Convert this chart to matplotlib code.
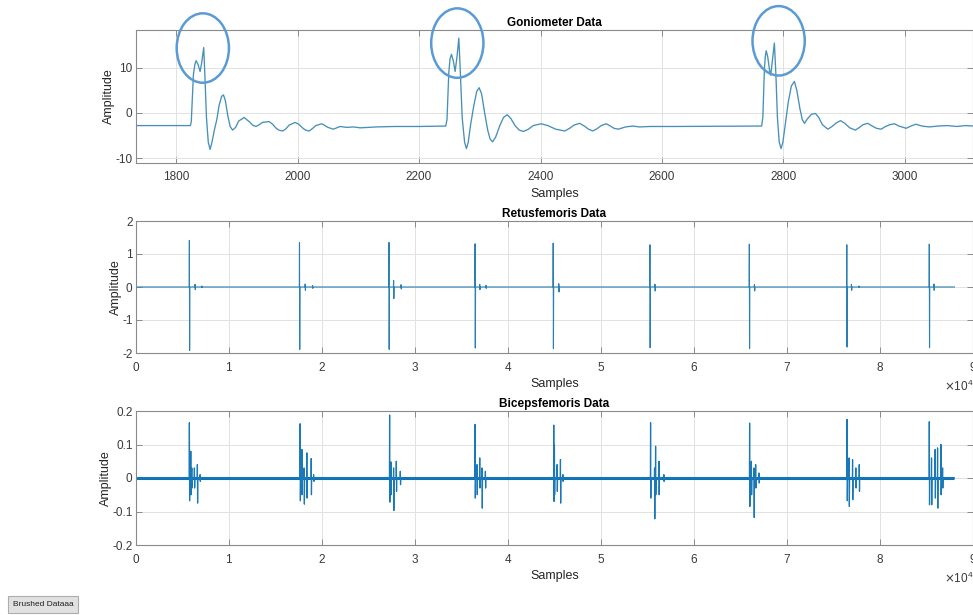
import matplotlib
matplotlib.use("Agg")
import matplotlib.pyplot as plt
from matplotlib.patches import Ellipse, Rectangle
from matplotlib.ticker import FixedLocator, FixedFormatter

plt.rcParams['font.family'] = ['Liberation Sans', 'DejaVu Sans']
plt.rcParams['axes.unicode_minus'] = False

# ---------------- Goniometer data (samples, amplitude) ----------------
gon_x = [1734, 1823.5, 1825, 1828.5, 1831, 1833, 1836, 1839.5, 1842, 1845.5, 1847.5,
         1850, 1853, 1856, 1859, 1863, 1867, 1871, 1875, 1878, 1881, 1885, 1889,
         1893, 1898, 1903, 1912, 1921, 1926, 1931.5, 1937, 1942, 1953, 1959, 1964,
         1969, 1975.5, 1981, 1986, 1996, 2002, 2008, 2013, 2019, 2025, 2030, 2040,
         2050, 2059, 2070, 2081, 2092, 2103, 2130, 2160, 2200, 2244,
         2246, 2249, 2251, 2253.4, 2256.5, 2259.4, 2262.5, 2265.5, 2268, 2271, 2275,
         2278, 2281, 2285, 2290, 2295, 2299, 2303, 2308, 2313, 2317, 2321, 2326,
         2333, 2339, 2345, 2351, 2358, 2365, 2372, 2380, 2388, 2401, 2412, 2425,
         2440, 2448, 2455, 2464.5, 2472, 2479, 2486, 2493, 2500, 2508, 2515, 2521,
         2528, 2540, 2552, 2563, 2580, 2620, 2680, 2720, 2764,
         2766, 2768.5, 2770, 2771.5, 2774, 2777, 2779, 2782, 2785, 2787.5, 2790,
         2793, 2796, 2799, 2803, 2808, 2813, 2818, 2822, 2827, 2831, 2834.5, 2840,
         2846, 2852.6, 2858, 2864, 2873, 2880, 2887, 2894, 2901, 2909, 2918.4, 2925,
         2931, 2938.7, 2946, 2953, 2960.7, 2968, 2975, 2982.6, 2990, 3001.8, 3010,
         3018, 3028, 3040, 3055, 3070, 3085, 3100, 3112]
gon_y = [-2.8, -2.8, -2.0, 8.5, 10.8, 11.6, 10.8, 9.2, 11.0, 14.5, 8.0,
         -1.0, -6.5, -8.1, -6.5, -3.8, -1.5, 1.8, 3.7, 4.0, 2.8, -0.5, -3.0,
         -3.8, -3.2, -1.8, -1.0, -2.0, -2.7, -3.0, -2.6, -2.1, -1.9, -2.5, -3.3,
         -3.8, -4.0, -3.5, -2.7, -2.1, -2.5, -3.3, -3.8, -4.0, -3.4, -2.8, -2.4,
         -3.2, -3.6, -3.0, -3.2, -3.1, -3.3, -3.1, -3.0, -3.0, -2.9,
         -1.5, 9.0, 12.0, 13.0, 11.5, 9.2, 12.5, 16.6, 9.0, -1.0, -6.5,
         -7.9, -6.5, -2.5, 1.5, 4.8, 5.6, 4.2, 0.0, -3.8, -5.8, -6.4, -5.4,
         -2.8, -1.0, -0.4, -1.2, -2.8, -3.8, -4.1, -3.6, -2.8, -2.4, -2.8, -3.6,
         -4.0, -3.4, -2.7, -2.3, -2.9, -3.6, -4.0, -3.5, -2.8, -2.4, -2.9, -3.4,
         -3.6, -3.1, -2.9, -3.1, -3.0, -3.0, -2.95, -2.9, -2.9,
         -1.0, 9.5, 12.5, 13.8, 12.5, 9.5, 8.4, 12.0, 15.5, 8.5, -1.0,
         -6.5, -7.9, -6.5, -2.5, 2.5, 6.0, 7.0, 5.0, 1.0, -1.5, -2.3, -1.2,
         -0.3, -0.1, -1.0, -2.6, -3.6, -3.0, -2.2, -1.7, -2.3, -3.3, -3.8, -3.2,
         -2.6, -2.3, -2.9, -3.4, -3.6, -3.0, -2.6, -2.4, -2.9, -3.4, -2.9,
         -2.5, -2.9, -3.1, -2.9, -2.8, -3.0, -2.8, -2.9]

# Peaks that are circled (sample, amplitude centre of the ring)
ring_x = [1844, 2263, 2792]
ring_y = [14.4, 15.5, 16.0]

# ---------------- Retusfemoris data ----------------
rf_end = 88000
rf_pos = [5740, 17580, 27200, 36460, 44860, 55260, 65950, 76430, 85300]
rf_top = [1.41, 1.35, 1.35, 1.31, 1.33, 1.28, 1.30, 1.28, 1.30]
rf_bot = [-1.92, -1.89, -1.89, -1.85, -1.87, -1.84, -1.87, -1.82, -1.84]
rf_blip_pos = [6350, 7070, 18190, 18980, 27700, 28500, 36960, 37640, 45460,
               55800, 66500, 76930, 77750, 85800]
rf_blip_up = [0.08, 0.03, 0.09, 0.04, 0.20, 0.07, 0.08, 0.05, 0.10,
              0.08, 0.07, 0.08, 0.03, 0.09]
rf_blip_dn = [-0.08, -0.02, -0.10, -0.04, -0.35, -0.06, -0.08, -0.04, -0.15,
              -0.12, -0.12, -0.10, -0.02, -0.10]

# ---------------- Bicepsfemoris data ----------------
bf_end = 88000
bf_pos = [5740, 5890, 6000, 6280, 6600, 6890,
          17650, 17840, 18080, 18370, 18840, 19100,
          27270, 27410, 27700, 27990, 28420,
          36460, 36670, 36960, 37210, 37570,
          44920, 44990, 45280, 45640, 45900,
          55330, 55760, 55870, 56230, 56760,
          65980, 66170, 66450, 66630, 66990,
          76460, 76680, 77050, 77400, 77770,
          85300, 85540, 85930, 86190, 86550, 86730]
bf_up = [0.165, 0.08, 0.03, 0.03, 0.04, 0.01,
         0.162, 0.085, 0.03, 0.075, 0.058, 0.01,
         0.188, 0.048, 0.03, 0.05, 0.02,
         0.16, 0.04, 0.06, 0.03, 0.02,
         0.158, 0.10, 0.04, 0.055, 0.01,
         0.165, 0.03, 0.095, 0.05, 0.01,
         0.164, 0.05, 0.03, 0.04, 0.015,
         0.175, 0.06, 0.055, 0.03, 0.04,
         0.168, 0.06, 0.085, 0.09, 0.10, 0.03]
bf_dn = [-0.068, -0.05, -0.03, -0.03, -0.075, -0.01,
         -0.068, -0.05, -0.078, -0.06, -0.05, -0.01,
         -0.072, -0.05, -0.097, -0.04, -0.02,
         -0.06, -0.05, -0.03, -0.09, -0.03,
         -0.07, -0.05, -0.04, -0.075, -0.01,
         -0.06, -0.122, -0.05, -0.05, -0.01,
         -0.085, -0.05, -0.118, -0.03, -0.015,
         -0.068, -0.085, -0.065, -0.03, -0.04,
         -0.08, -0.08, -0.06, -0.09, -0.05, -0.03]


def spike_series(end, events):
    """events: list of (pos, up, down) -> polyline through baseline 0"""
    xs, ys = [0], [0.0]
    for p, u, d in sorted(events):
        xs += [p - 20, p, p + 25, p + 50]
        ys += [0.0, u, d, 0.0]
    xs.append(end)
    ys.append(0.0)
    return xs, ys


W, H = 973, 615
fig = plt.figure(figsize=(W / 100, H / 100), dpi=100)
fig.patch.set_facecolor('white')

left = 136 / W
width = 837 / W


def ax_rect(top_px, bot_px):
    return [left, 1 - bot_px / H, width, (bot_px - top_px) / H]


spine_col = '#8a8a8a'
tick_col = '#3a3a3a'


def style(ax):
    for s in ax.spines.values():
        s.set_color(spine_col)
        s.set_linewidth(0.8)
    ax.tick_params(direction='in', length=4, width=0.7, colors=spine_col,
                   labelcolor=tick_col, labelsize=8.5, top=True, right=True)
    ax.tick_params(axis='y', pad=2.5)
    ax.tick_params(axis='x', pad=6)
    ax.grid(True, color='#e2e2e2', linewidth=0.7)
    ax.set_axisbelow(True)
    ax.set_ylabel('Amplitude', fontsize=9, color='#262626', labelpad=0)
    ax.set_xlabel('Samples', fontsize=9, color='#262626', labelpad=3)


# ---- top: goniometer
ax1 = fig.add_axes(ax_rect(30, 163))
ax1.plot(gon_x, gon_y, color='#4690b8', linewidth=0.95)
ax1.set_xlim(1734, 3112)
ax1.set_ylim(-11.1, 18.4)
ax1.set_xticks([1800, 2000, 2200, 2400, 2600, 2800, 3000])
ax1.set_yticks([-10, 0, 10])
style(ax1)
ax1.set_title('Goniometer Data', fontsize=8.5, fontweight='bold', pad=3)
for cx, cy in zip(ring_x, ring_y):
    ax1.add_patch(Ellipse((cx, cy), width=86, height=15.4, fill=False,
                          edgecolor='#5b9bd5', linewidth=1.8, clip_on=False,
                          zorder=5))

# ---- middle: retusfemoris
ax2 = fig.add_axes(ax_rect(221, 353))
ev2 = list(zip(rf_pos, rf_top, rf_bot)) + list(zip(rf_blip_pos, rf_blip_up, rf_blip_dn))
x2, y2 = spike_series(rf_end, ev2)
ax2.plot(x2, y2, color='#2a7fb3', linewidth=0.8)
ax2.set_xlim(0, 90000)
ax2.set_ylim(-2, 2)
ax2.set_xticks([i * 10000 for i in range(10)])
ax2.set_yticks([-2, -1, 0, 1, 2])
ax2.ticklabel_format(axis='x', style='sci', scilimits=(4, 4), useMathText=True)
style(ax2)
ax2.xaxis.get_offset_text().set_fontsize(8.5)
ax2.xaxis.get_offset_text().set_color(tick_col)
ax2.set_title('Retusfemoris Data', fontsize=8.5, fontweight='bold', pad=3)

# ---- bottom: bicepsfemoris
ax3 = fig.add_axes(ax_rect(411, 545))
x3, y3 = spike_series(bf_end, list(zip(bf_pos, bf_up, bf_dn)))
ax3.plot([0, bf_end], [0, 0], color='#0a72b8', linewidth=2.2, solid_capstyle='butt')
ax3.plot(x3, y3, color='#1a78b8', linewidth=0.9)
ax3.set_xlim(0, 90000)
ax3.set_ylim(-0.2, 0.2)
ax3.set_xticks([i * 10000 for i in range(10)])
bf_ticks = [-0.2, -0.1, 0, 0.1, 0.2]
bf_tick_labels = ['-0.2', '-0.1', '0', '0.1', '0.2']
ax3.yaxis.set_major_locator(FixedLocator(bf_ticks))
ax3.yaxis.set_major_formatter(FixedFormatter(bf_tick_labels))
ax3.ticklabel_format(axis='x', style='sci', scilimits=(4, 4), useMathText=True)
style(ax3)
ax3.xaxis.get_offset_text().set_fontsize(8.5)
ax3.xaxis.get_offset_text().set_color(tick_col)
ax3.set_title('Bicepsfemoris Data', fontsize=8.5, fontweight='bold', pad=3)

# ---- "Brushed Dataaa" button
fig.patches.append(Rectangle((8 / W, 1 - 613 / H), 70 / W, 17 / H,
                             transform=fig.transFigure, facecolor='#e1e1e1',
                             edgecolor='#adadad', linewidth=0.8))
fig.text(43 / W, 1 - 604.5 / H, 'Brushed Dataaa', fontsize=6, ha='center',
         va='center', color='#202020')

fig.savefig('out.png', dpi=100, facecolor='white')
